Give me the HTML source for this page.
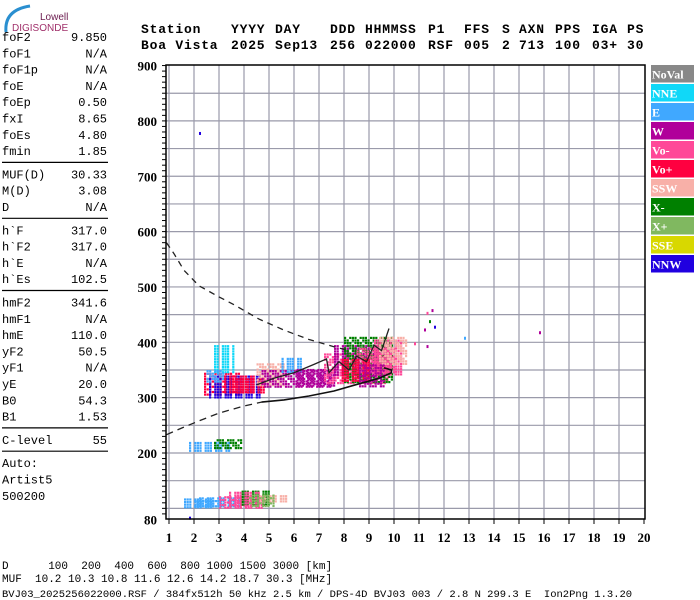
<!DOCTYPE html>
<html><head><meta charset="utf-8"><style>
body{margin:0;background:#fff;}
svg{display:block;}
.mono{font-family:"Liberation Mono",monospace;}
.hdr{font-family:"Liberation Mono",monospace;font-weight:bold;font-size:13px;letter-spacing:0.8px;}
.tk{font-family:"Liberation Serif",serif;font-weight:bold;font-size:13px;}
.lg{font-family:"Liberation Serif",serif;font-weight:bold;font-size:12px;fill:#fff;}
</style></head><body>
<svg id="chart" width="700" height="600" viewBox="0 0 700 600">
<g>
<path d="M6 32 Q4 10 30 6" stroke="#2a8fd0" stroke-width="3" fill="none"/>
<text x="40" y="20" font-family="Liberation Sans,sans-serif" font-size="10" fill="#6b1a4e">Lowell</text>
<text x="12" y="31" font-family="Liberation Sans,sans-serif" font-size="10" fill="#a0306a">DIGISONDE</text>
</g>
<g id="header" class="hdr"></g>
<g id="params" class="mono" font-size="12"></g>
<g id="grid"></g>
<g id="data"></g>
<g id="curves"></g>
<g id="axes"></g>
<g id="legend"></g>
<g class="mono" font-size="11">
<text x="2" y="569" xml:space="preserve">D      100  200  400  600  800 1000 1500 3000 [km]</text>
<text x="2" y="582" xml:space="preserve">MUF  10.2 10.3 10.8 11.6 12.6 14.2 18.7 30.3 [MHz]</text>
<text x="2" y="597" xml:space="preserve" font-size="10.5">BVJ03_2025256022000.RSF / 384fx512h 50 kHz 2.5 km / DPS-4D BVJ03 003 / 2.8 N 299.3 E  Ion2Png 1.3.20</text>
</g>
</svg>
<script>
const freqTicks=[1,2,3,4,5,6,7,8,9,10,11,12,13,14,15,16,17,18,19,20];
const heightTicks=[80,200,300,400,500,600,700,800,900];
const legendNames=["NoVal","NNE","E","W","Vo-","Vo+","SSW","X-","X+","SSE","NNW"];
const legendColors=["#888888","#10d8f8","#40a8ff","#b0009a","#ff4898","#ff0040","#f8b0a8","#008000","#80b860","#d8d800","#2000e0"];
// echo blobs: frequency range, height range, colour index
const blobF0=[2.4,2.8,2.6,3.6,4.5,4.7,5.5,6.0,7.2,7.6,8.0,8.5,9.2,9.4,1.8,2.8,1.6,2.2,3.0,3.8,4.6,2.5,3.2,7.8,8.6,2.0,3.4,4.2];
const blobF1=[3.8,3.6,4.6,4.8,5.6,7.5,6.3,7.6,9.8,9.6,9.9,10.0,10.4,10.5,3.4,3.9,2.8,3.8,4.8,5.0,5.8,3.2,4.4,9.0,9.6,3.0,4.6,5.2];
const blobH0=[305,345,300,310,320,318,345,322,325,340,330,345,340,360,205,210,103,103,103,108,112,330,310,330,320,103,105,104];
const blobH1=[345,395,340,335,362,350,372,352,380,395,410,390,405,410,220,225,118,120,122,132,124,350,340,370,360,115,130,125];
const blobC=[5,1,10,5,6,3,2,3,4,3,7,4,4,6,2,7,2,2,4,7,6,2,5,5,3,2,4,8];
// scattered single echoes
const dotF=[11.3,11.4,11.2,11.5,11.6,12.8,15.8,2.2,11.3,10.8,1.8];
const dotH=[455,440,425,460,430,410,420,780,395,400,85];
const dotC=[4,7,3,3,10,2,3,10,3,4,10];
// profile curves (freq, height)
const upperF=[0.9,1.2,1.6,2.2,3.0,3.6,4.6,5.6,6.6,7.6,8.2];
const upperH=[580,560,530,502,482,468,442,422,405,392,385];
const lowerF=[0.9,1.5,2.2,3.0,4.0,4.7,5.6,6.6,7.6,8.6,9.4,9.9,9.9,9.6];
const lowerH=[233,245,258,272,285,292,296,303,312,325,335,345,350,354];
const traceF=[4.5,5.2,6.0,6.8,7.3,7.4,7.8,8.2,8.5,8.9,9.2,9.5,9.8];
const traceH=[323,335,345,360,370,345,365,350,375,365,395,385,425];

const NS="http://www.w3.org/2000/svg";
const X0=169,XS=25,Y200=453,YS=0.5535;
function xs(f){return X0+(f-1)*XS;}
function ys(h){return Y200-(h-200)*YS;}
function mk(tag,attrs,parent){const e=document.createElementNS(NS,tag);for(const k in attrs)e.setAttribute(k,attrs[k]);parent.appendChild(e);return e;}
const $=id=>document.getElementById(id);

// header
const hx=[141,231,275,330,365,428,464,502,519,555,592,627];
const h1=["Station","YYYY","DAY","DDD","HHMMSS","P1","FFS","S","AXN","PPS","IGA","PS"];
const h2=["Boa Vista","2025","Sep13","256","022000","RSF","005","2","713","100","03+","30"];
h1.forEach((t,i)=>{const e=mk("text",{x:hx[i],y:33},$("header"));e.textContent=t;});
h2.forEach((t,i)=>{const e=mk("text",{x:hx[i],y:49},$("header"));e.textContent=t;});

// params
const pNames=["foF2","foF1","foF1p","foE","foEp","fxI","foEs","fmin",null,"MUF(D)","M(D)","D",null,"h`F","h`F2","h`E","h`Es",null,"hmF2","hmF1","hmE","yF2","yF1","yE","B0","B1",null,"C-level",null,"Auto:","Artist5","500200"];
const pVals=["9.850","N/A","N/A","N/A","0.50","8.65","4.80","1.85",null,"30.33","3.08","N/A",null,"317.0","317.0","N/A","102.5",null,"341.6","N/A","110.0","50.5","N/A","20.0","54.3","1.53",null,"55",null,"","",""];
let py=41;
pNames.forEach((n,i)=>{
  if(n===null){const l=mk("line",{x1:2,x2:108,y1:py-9,y2:py-9,stroke:"#000","stroke-width":1.2},$("params"));py+=7;return;}
  const t=mk("text",{x:2,y:py},$("params"));t.textContent=n;
  
  if(pVals[i]){const v=mk("text",{x:107,y:py,"text-anchor":"end"},$("params"));v.textContent=pVals[i];
  }
  py+=16.3;
});

// grid
for(let f=1;f<=19;f++) mk("line",{x1:xs(f),x2:xs(f),y1:65,y2:519,stroke:"#9a9aaa","stroke-width":1.2},$("grid"));
for(let h=100;h<900;h+=50) mk("line",{x1:166,x2:645,y1:ys(h),y2:ys(h),stroke:"#9a9aaa","stroke-width":1.2},$("grid"));

// blobs
blobF0.forEach((f0,i)=>{
  const x0=xs(f0),x1=xs(blobF1[i]),y0=ys(blobH1[i]),y1=ys(blobH0[i]);
  let k=0;
  for(let y=y0;y<y1;y+=2.6){for(let x=x0;x<x1;x+=2.6){k++;if((k*5+i)%4===0)continue;
    const r=mk("rect",{x:x.toFixed(1),y:y.toFixed(1),width:2.2,height:2.2,fill:legendColors[blobC[i]]},$("data"));
    }}
});
dotF.forEach((f,i)=>{const r=mk("rect",{x:xs(f),y:ys(dotH[i]),width:2,height:3,fill:legendColors[dotC[i]]},$("data"));
  });

// curves
function pts(F,H){return F.map((f,i)=>xs(f).toFixed(1)+","+ys(H[i]).toFixed(1)).join(" ");}
const u=mk("polyline",{points:pts(upperF,upperH),fill:"none",stroke:"#222","stroke-width":1.3,"stroke-dasharray":"6,5"},$("curves"));

const lo=mk("polyline",{points:pts(lowerF.slice(0,6),lowerH.slice(0,6)),fill:"none",stroke:"#222","stroke-width":1.3,"stroke-dasharray":"7,5"},$("curves"));

const ls=mk("polyline",{points:pts(lowerF.slice(5),lowerH.slice(5)),fill:"none",stroke:"#111","stroke-width":1.6},$("curves"));

const tr=mk("polyline",{points:pts(traceF,traceH),fill:"none",stroke:"#222","stroke-width":1.3},$("curves"));


// axes
mk("rect",{x:166,y:65,width:479,height:454,fill:"none",stroke:"#000","stroke-width":1.5},$("axes"));
for(let h=90;h<=900;h+=10) mk("line",{x1:162,x2:166,y1:ys(h),y2:ys(h),stroke:"#000","stroke-width":1},$("axes"));
heightTicks.forEach(h=>{const t=mk("text",{x:157,y:ys(h)+5,"text-anchor":"end",class:"tk"},$("axes"));t.textContent=h;
  });
freqTicks.forEach(f=>{mk("line",{x1:xs(f),x2:xs(f),y1:519,y2:524,stroke:"#000"},$("axes"));
  const t=mk("text",{x:xs(f),y:542,"text-anchor":"middle",class:"tk"},$("axes"));t.textContent=f;
  });

// legend
legendNames.forEach((n,i)=>{const y=65+i*19;
  const r=mk("rect",{x:651,y:y,width:43,height:17.5,fill:legendColors[i]},$("legend"));
  
  const t=mk("text",{x:652,y:y+13.5,class:"lg"},$("legend"));t.textContent=n;
  });
</script>
</body></html>
